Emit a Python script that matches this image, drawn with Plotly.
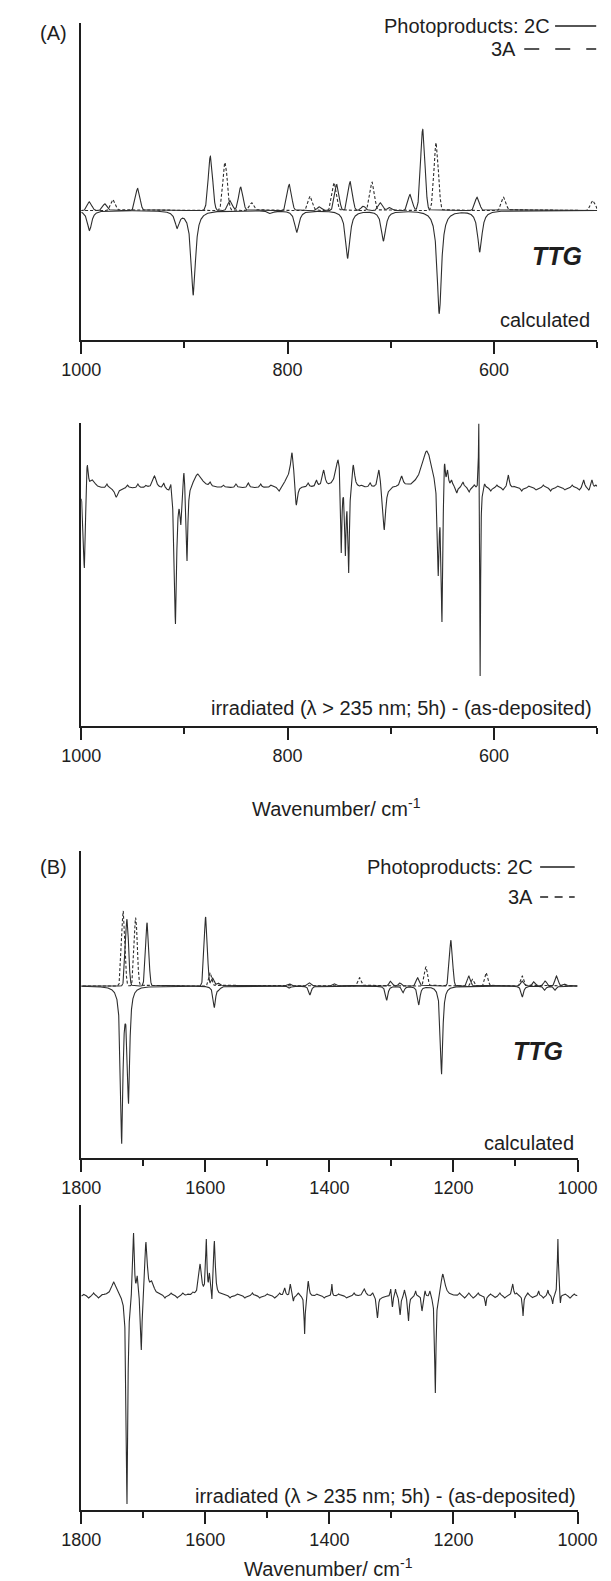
import numpy as np
import plotly.graph_objects as go

W, H = 611, 1581
C = "#1e1e1e"
LC = "#2e2e2e"
F = "Liberation Sans, Arial, sans-serif"

# ---------------- Panel A (1000-500 cm-1) : calculated ----------------
A_2C_pos = [992, 977, 945.3, 874.8, 855.7, 845.4, 798.3, 769, 752.3, 739.3, 726.6,
            709.9, 701, 681.2, 669, 616.2]
A_2C_val = [8.7, 6.7, 22, 54.3, 10, 23.3, 26, 3.7, 26, 28.7, 4.3, 7.7, 3, 16, 81, 13.3]

A_3A_pos = [969, 860.6, 834.6, 778, 754.7, 718, 656, 590.5, 504]
A_3A_val = [11, 48, 7.7, 14.3, 27.7, 28.3, 67.7, 13.3, 10]

A_TTG_pos = [992, 907, 891.4, 816.4, 791, 741.7, 707, 653, 613.7]
A_TTG_val = [-20, -18, -84.7, -3.3, -21.7, -48, -30.7, -103.3, -41.7]

# ---------------- Panel A : experimental difference spectrum ----------------
A_exp_pos = [997, 994.3, 989, 975, 966, 955, 945, 937, 929, 920, 913,
             908.7, 903.5, 900.5, 897.5, 887, 875, 862, 850, 838, 826, 816, 808,
             800, 795.6, 791.6, 780, 772, 765, 750.7, 748, 744, 740.8, 736.3, 728,
             720, 711.4, 706.3, 697, 689.4, 680, 665, 654, 650.4, 648, 645, 641,
             636, 630, 624, 619, 614.6, 613.4, 609, 603, 597, 591, 586, 580, 573,
             566, 559, 552, 545, 538, 531, 524, 517, 513, 508, 505, 501]
A_exp_val = [-80, 22, 8, 4, -9, 3, 4, 3, 12, 5, 3,
             -136, -37, 15, -73, 14, 6, 3, 4, 5, 4, 3, -3,
             12, 35, -17, 5, 8, 18, 27, -65, -68, -85, 23, 3,
             5, 18, -42, 2, 12, 4, 37, -88, -134, 23, 18, 8,
             -5, 6, -4, 3, 64, -188, 4, -3, 3, -2, 13, 2, -3,
             2, -2, 3, -3, 2, -2, 3, -2, 8, -2, 8, 3]
A_exp_wid = [2.5, 2.5, 6, 2, 4, 2, 2, 2, 4, 2, 2,
             2.5, 1.8, 1.8, 1.8, 10, 2, 2, 2, 2, 2, 2, 3,
             8, 4, 3, 2, 2, 3, 6, 1.5, 1.5, 1.5, 3, 2,
             2, 3, 3, 2, 3, 2, 12, 2, 1.8, 2, 2, 2,
             2, 2, 2, 2, 1.0, 1.0, 2, 2, 2, 2, 2, 2, 2,
             2, 2, 2, 2, 2, 2, 2, 2, 2, 2, 2, 2]

# ---------------- Panel B (1800-1000 cm-1) : calculated ----------------
B_2C_pos = [1726.3, 1693.8, 1599.4, 1588, 1578, 1464, 1431.3, 1391, 1301, 1286,
            1257.5, 1204, 1175, 1088.8, 1070, 1052, 1033.6, 1020]
B_2C_val = [66.7, 63.3, 69, 8, 3, 2, 3.3, 2.3, 5, 3, 8.3, 45.7, 10, 5, 4.3, 5, 10, 2]

B_3A_pos = [1732.3, 1712.3, 1591.9, 1351, 1244.3, 1169, 1146.9, 1088.8]
B_3A_val = [75, 68.3, 13.3, 8.3, 19, 6.7, 13.3, 10]

B_TTG_pos = [1734.8, 1723.8, 1585.4, 1578, 1464, 1431.3, 1307.5, 1281, 1255.8,
             1219.1, 1088.8, 1052.7, 1036]
B_TTG_val = [-157.7, -117.7, -21.7, -5, -2.3, -9, -14.3, -6.7, -19,
             -88.3, -11, -4.3, -4.3]

# ---------------- Panel B : experimental difference spectrum ----------------
B_exp_pos = [1795, 1788, 1780, 1772, 1765, 1758, 1747.3, 1726.3, 1715.7, 1709.7,
             1703.2, 1695.7, 1686, 1675, 1665, 1655, 1645, 1636, 1628, 1620,
             1608.4, 1598.4, 1593.4, 1589.3, 1585.4, 1572, 1560, 1548, 1536, 1524,
             1512, 1500, 1488, 1480, 1472, 1463, 1458, 1450, 1439.9, 1434, 1420,
             1408, 1396, 1385, 1372, 1360, 1343.6, 1330, 1322.5, 1316, 1301, 1298.4,
             1293.4, 1286, 1279, 1272.4, 1261, 1250.7, 1245.7, 1238, 1229.2, 1217,
             1190, 1182, 1175, 1168, 1160, 1148, 1140, 1132, 1125, 1117, 1110,
             1104.4, 1098, 1087.8, 1080, 1072, 1062.6, 1055, 1047.6, 1040, 1031.6,
             1027.6, 1020, 1012, 1005]
B_exp_val = [2, -2, 3, -2, 2, 3, 14, -208, 63, 20,
             -54, 54, 15, 3, -2, 3, -2, 3, 2, 4,
             32, 57, 23, -3, 55, 2, -2, 2, -2, 3,
             -2, 2, -2, 3, 8, 12, -5, 3, -38, 15, 2,
             -2, 12, 2, -2, 3, 7, 3, -22, -3, 7, -11,
             7, -19, 6, -25, 5, -15, 5, 5, -97, 22,
             3, -2, 3, -2, 3, -10, 2, -2, 3, -2, 2,
             12, 3, -20, 3, -2, 5, -2, 6, -8, 57,
             -7, 2, -2, 2]
B_exp_wid = [3, 3, 3, 3, 3, 3, 10, 3, 3, 3,
             3, 5, 8, 3, 3, 3, 3, 3, 3, 3,
             5, 2.5, 2, 1.5, 3.5, 3, 3, 3, 3, 3,
             3, 3, 3, 3, 3, 2, 2, 3, 2, 3, 3,
             3, 1.5, 3, 3, 3, 5, 3, 3, 3, 2, 2,
             2, 2.5, 2, 2.5, 2, 2, 2, 2, 2.5, 8,
             3, 3, 3, 3, 3, 2, 3, 3, 3, 3, 3,
             3, 3, 2, 3, 3, 2, 2, 2, 2, 2,
             1.5, 3, 3, 3]

# ---------------- text ----------------
LEGEND_2C = "Photoproducts: 2C"
LEGEND_3A = "3A"
EXP_LABEL = "irradiated (\u03bb > 235 nm; 5h) - (as-deposited)"
XTITLE = "Wavenumber/ cm<sup>-1</sup>"


def lorentz(x, x0, w):
    return 1.0 / (1.0 + ((x - x0) / (0.5 * w)) ** 2)


def gauss(x, x0, w):
    return np.exp(-4.0 * np.log(2.0) * ((x - x0) / w) ** 2)


def band_spectrum(grid, pos, val, wid, shape):
    """Band shapes whose summed curve passes through the read peak values."""
    pos = np.asarray(pos, float)
    val = np.asarray(val, float)
    wid = np.broadcast_to(np.asarray(wid, float), pos.shape)
    M = shape(pos[:, None], pos[None, :], wid[None, :])
    amp = np.linalg.solve(M, val)
    return shape(grid[:, None], pos[None, :], wid[None, :]) @ amp


gA = np.arange(500.0, 1000.0001, 0.1)
gB = np.arange(1000.0, 1800.0001, 0.1)

fig = go.Figure()

def add(grid, y, xa, ya, dash="solid"):
    fig.add_trace(go.Scatter(x=grid, y=y, mode="lines", xaxis=xa, yaxis=ya,
                             line=dict(color=LC, width=1.1, dash=dash),
                             hoverinfo="skip", showlegend=False))

add(gA, band_spectrum(gA, A_TTG_pos, A_TTG_val, 5.0, lorentz), "x", "y")
add(gA, band_spectrum(gA, A_3A_pos, A_3A_val, 5.0, gauss), "x", "y", "3px,2px")
add(gA, band_spectrum(gA, A_2C_pos, A_2C_val, 5.0, gauss), "x", "y")
add(gA, band_spectrum(gA, A_exp_pos, A_exp_val, A_exp_wid, lorentz), "x2", "y2")

add(gB, band_spectrum(gB, B_TTG_pos, B_TTG_val, 4.5, lorentz), "x3", "y3")
add(gB, band_spectrum(gB, B_3A_pos, B_3A_val, 6.0, gauss), "x3", "y3", "3px,2px")
add(gB, band_spectrum(gB, B_2C_pos, B_2C_val, 6.0, gauss), "x3", "y3")
add(gB, band_spectrum(gB, B_exp_pos, B_exp_val, B_exp_wid, lorentz), "x4", "y4")


def py(p):
    return 1.0 - p / H


def px(p):
    return p / W


xa_common = dict(showline=True, linewidth=2, linecolor=C, ticks="outside", ticklen=12,
                 tickwidth=2, tickcolor=C, showgrid=False, zeroline=False,
                 tickmode="linear", tick0=0, dtick=200,
                 tickfont=dict(size=18, family=F, color=C),
                 minor=dict(ticks="outside", ticklen=6, tickwidth=2, tickcolor=C,
                            tickmode="linear", tick0=0, dtick=100, showgrid=False))
ya_common = dict(showline=True, linewidth=2, linecolor=C, ticks="", showticklabels=False,
                 showgrid=False, zeroline=False)

domA = [px(57), px(609)]
domB = [px(57), px(588)]

fig.update_layout(
    width=W, height=H, margin=dict(l=0, r=0, t=0, b=0),
    paper_bgcolor="white", plot_bgcolor="white", showlegend=False,
    font=dict(family=F, color=C),
    xaxis=dict(xa_common, domain=domA, range=[1000, 500], anchor="y"),
    yaxis=dict(ya_common, domain=[py(332), py(15)], range=[-129.5, 187.5], anchor="x"),
    xaxis2=dict(xa_common, domain=domA, range=[1000, 500], anchor="y2"),
    yaxis2=dict(ya_common, domain=[py(718), py(415)], range=[-238, 65], anchor="x2"),
    xaxis3=dict(xa_common, domain=domB, range=[1800, 1000], anchor="y3"),
    yaxis3=dict(ya_common, domain=[py(1150), py(843)], range=[-172, 135], anchor="x3"),
    xaxis4=dict(xa_common, domain=domB, range=[1800, 1000], anchor="y4"),
    yaxis4=dict(ya_common, domain=[py(1502), py(1197)], range=[-214, 91], anchor="x4"),
)

ann = []
def text(t, x, y, size=20, xanchor="center"):
    ann.append(dict(text=t, x=px(x), y=py(y), xref="paper", yref="paper",
                    xanchor=xanchor, yanchor="middle", showarrow=False,
                    font=dict(size=size, family=F, color=C)))

# Panel A
text("(A)", 27, 25)
text(LEGEND_2C, 561, 18, xanchor="right")
text(LEGEND_3A, 524, 41, xanchor="right")
text("<b><i>TTG</i></b>", 566, 248, size=25)
text("calculated", 603, 312, xanchor="right")
text(EXP_LABEL, 606, 700, xanchor="right")
text(XTITLE, 330, 799)
# Panel B
text("(B)", 27, 859)
text(LEGEND_2C, 542, 859, xanchor="right")
text(LEGEND_3A, 542, 889, xanchor="right")
text("<b><i>TTG</i></b>", 546, 1043, size=25)
text("calculated", 586, 1135, xanchor="right")
text(EXP_LABEL, 588, 1488, xanchor="right")
text(XTITLE, 322, 1559)
fig.update_layout(annotations=ann)

shapes = []
def seg(x0, x1, y, dash="solid"):
    shapes.append(dict(type="line", xref="paper", yref="paper", x0=px(x0), x1=px(x1),
                       y0=py(y), y1=py(y), line=dict(color=C, width=1.5, dash=dash)))

seg(564, 608, 18)
seg(531, 608, 41, "15px,16px")
seg(548, 585, 859)
seg(548, 585, 889, "8px,6.5px")
fig.update_layout(shapes=shapes)

fig.write_html("out.html")
